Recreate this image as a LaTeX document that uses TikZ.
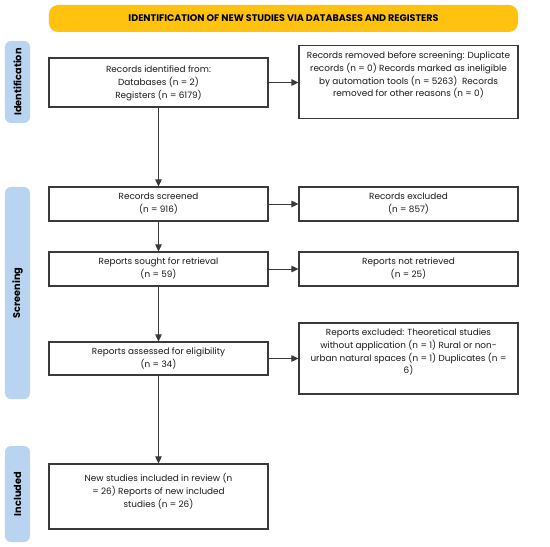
\documentclass[tikz,border=0pt]{standalone}
\usepackage{fontspec}
\setmainfont{Poppins}
\usetikzlibrary{arrows.meta}
\definecolor{banner}{HTML}{FFC30F}
\definecolor{tab}{HTML}{B8D4F0}
\definecolor{edge}{HTML}{3A3A3A}
\tikzset{
  box/.style={draw=edge, line width=1.1bp, fill=white, inner sep=0pt},
  txt/.style={font=\fontsize{8.9}{12.7}\selectfont, align=center, inner sep=0pt, anchor=north, text=black!90},
  tabbox/.style={fill=tab, rounded corners=6bp, inner sep=0pt},
  tabtxt/.style={font=\bfseries\fontsize{9.8}{11}\selectfont, rotate=90},
  arr/.style={draw=edge, line width=0.9bp, -{Triangle[length=7bp,width=6.5bp]}}
}
\begin{document}
\begin{tikzpicture}[x=1bp,y=-1bp]
\useasboundingbox (0,0) rectangle (550,547);
% banner
\node[fill=banner, rounded corners=9bp, minimum width=469bp, minimum height=27bp, inner sep=0pt,
  font=\bfseries\fontsize{9.6}{11}\selectfont] (ban) at (283.5,18.5) {IDENTIFICATION OF NEW STUDIES VIA DATABASES AND REGISTERS};
% side tabs
\node[tabbox, minimum width=25bp, minimum height=82bp] (tid) at (17.5,82) {};
\node[tabtxt] at (tid) {Identification};
\node[tabbox, minimum width=25bp, minimum height=212bp] (tsc) at (17.5,293) {};
\node[tabtxt] at (tsc) {Screening};
\node[tabbox, minimum width=25bp, minimum height=96bp] (tin) at (17.5,494) {};
\node[tabtxt] at (tin) {Included};
% boxes
\node[box, minimum width=219bp, minimum height=49bp] (b1) at (158.5,82.5) {};
\node[txt] at ([yshift=-8.5bp]b1.north) {Records identified from:\\Databases (n = 2)\\Registers (n = 6179)};
\node[box, minimum width=219bp, minimum height=73bp] (r1) at (408.5,82) {};
\node[txt] at ([yshift=-7bp]r1.north) {Records removed before screening: Duplicate\\records (n = 0) Records marked as ineligible\\by automation tools (n = 5263)\ \ Records\\removed for other reasons (n = 0)};
\node[box, minimum width=219bp, minimum height=34bp] (b2) at (158.5,204) {};
\node[txt] at ([yshift=-6.5bp]b2.north) {Records screened\\(n = 916)};
\node[box, minimum width=219bp, minimum height=34bp] (r2) at (408.5,204) {};
\node[txt] at ([yshift=-6.5bp]r2.north) {Records excluded\\(n = 857)};
\node[box, minimum width=219bp, minimum height=34bp] (b3) at (158.5,269) {};
\node[txt] at ([yshift=-6.5bp]b3.north) {Reports sought for retrieval\\(n = 59)};
\node[box, minimum width=219bp, minimum height=34bp] (r3) at (408.5,269) {};
\node[txt] at ([yshift=-6.5bp]r3.north) {Reports not retrieved\\(n = 25)};
\node[box, minimum width=219bp, minimum height=33bp] (b4) at (158.5,358.5) {};
\node[txt] at ([yshift=-6.5bp]b4.north) {Reports assessed for eligibility\\(n = 34)};
\node[box, minimum width=219bp, minimum height=71bp] (r4) at (408.5,358.5) {};
\node[txt] at ([yshift=-6.5bp]r4.north) {Reports excluded: Theoretical studies\\without application (n = 1) Rural or non-\\urban natural spaces (n = 1) Duplicates (n =\\6)};
\node[box, minimum width=219bp, minimum height=65bp] (b5) at (158.5,496.5) {};
\node[txt] at ([yshift=-10bp]b5.north) {New studies included in review (n\\= 26) Reports of new included\\studies (n = 26)};
% arrows
\draw[arr] (b1) -- (r1.west |- b1);
\draw[arr] (b1) -- (b2);
\draw[arr] (b2) -- (r2);
\draw[arr] (b2) -- (b3);
\draw[arr] (b3) -- (r3);
\draw[arr] (b3) -- (b4);
\draw[arr] (b4) -- (r4.west |- b4);
\draw[arr] (b4) -- (b5);
\end{tikzpicture}
\end{document}
